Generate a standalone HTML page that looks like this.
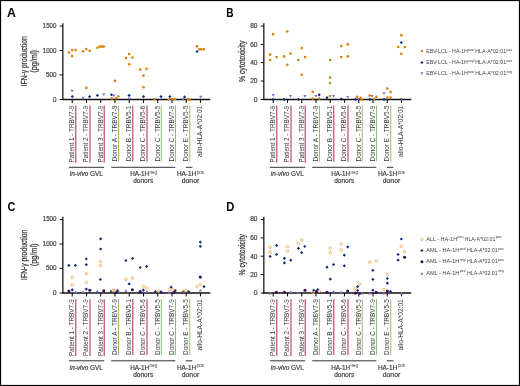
<!DOCTYPE html>
<html><head><meta charset="utf-8"><title>Figure</title>
<style>html,body{margin:0;padding:0;background:#fff;}body{width:520px;height:386px;overflow:hidden;font-family:"Liberation Sans",sans-serif;}svg{display:block;will-change:transform;}</style>
</head><body>
<svg width="520" height="386" viewBox="0 0 520 386" font-family='"Liberation Sans", sans-serif'>
<rect x="0" y="0" width="520" height="386" fill="#fff"/>
<path d="M62.83 23.20V100.10" fill="none" stroke="#111" stroke-width="1.27"/>
<path d="M62.20 99.50H210.30" fill="none" stroke="#111" stroke-width="1.3"/>
<path d="M59.70 26.10H62.83" stroke="#111" stroke-width="1"/>
<text x="56.5" y="27.7" font-size="6.9" text-anchor="end" font-weight="normal" font-style="normal" fill="#383838" textLength="13.8" lengthAdjust="spacingAndGlyphs" stroke="#383838" stroke-width="0.18">1500</text>
<path d="M59.70 50.50H62.83" stroke="#111" stroke-width="1"/>
<text x="56.5" y="52.9" font-size="6.9" text-anchor="end" font-weight="normal" font-style="normal" fill="#383838" textLength="13.8" lengthAdjust="spacingAndGlyphs" stroke="#383838" stroke-width="0.18">1000</text>
<path d="M59.70 74.90H62.83" stroke="#111" stroke-width="1"/>
<text x="56.5" y="76.6" font-size="6.9" text-anchor="end" font-weight="normal" font-style="normal" fill="#383838" textLength="10.6" lengthAdjust="spacingAndGlyphs" stroke="#383838" stroke-width="0.18">500</text>
<path d="M59.70 99.50H62.83" stroke="#111" stroke-width="1"/>
<text x="56.5" y="101.6" font-size="6.9" text-anchor="end" font-weight="normal" font-style="normal" fill="#383838" textLength="3.8" lengthAdjust="spacingAndGlyphs" stroke="#383838" stroke-width="0.18">0</text>
<path d="M72.25 99.5V102.90" stroke="#111" stroke-width="1.1"/>
<text transform="translate(74.10 105.7) rotate(-90)" font-size="7" text-anchor="end" font-weight="normal" font-style="normal" fill="#383838" textLength="56.9" lengthAdjust="spacingAndGlyphs">Patient 1 - TRBV7-9</text>
<rect x="75.10" y="105.6" width="1.3" height="57.00" fill="#c9557a"/>
<path d="M86.50 99.5V102.90" stroke="#111" stroke-width="1.1"/>
<text transform="translate(88.35 105.7) rotate(-90)" font-size="7" text-anchor="end" font-weight="normal" font-style="normal" fill="#383838" textLength="56.9" lengthAdjust="spacingAndGlyphs">Patient 2 - TRBV7-9</text>
<rect x="89.35" y="105.6" width="1.3" height="57.00" fill="#c9557a"/>
<path d="M100.75 99.5V102.90" stroke="#111" stroke-width="1.1"/>
<text transform="translate(102.60 105.7) rotate(-90)" font-size="7" text-anchor="end" font-weight="normal" font-style="normal" fill="#383838" textLength="56.9" lengthAdjust="spacingAndGlyphs">Patient 3 - TRBV7-9</text>
<rect x="103.60" y="105.6" width="1.3" height="57.00" fill="#c9557a"/>
<path d="M115.00 99.5V102.90" stroke="#111" stroke-width="1.1"/>
<text transform="translate(116.85 105.7) rotate(-90)" font-size="7" text-anchor="end" font-weight="normal" font-style="normal" fill="#383838" textLength="55.8" lengthAdjust="spacingAndGlyphs">Donor A - TRBV7-9</text>
<rect x="118.00" y="105.6" width="1.0" height="55.90" fill="#8cc46e"/>
<path d="M129.25 99.5V102.90" stroke="#111" stroke-width="1.1"/>
<text transform="translate(131.10 105.7) rotate(-90)" font-size="7" text-anchor="end" font-weight="normal" font-style="normal" fill="#383838" textLength="55.8" lengthAdjust="spacingAndGlyphs">Donor B - TRBV5-1</text>
<rect x="132.10" y="105.6" width="1.3" height="55.90" fill="#c9557a"/>
<path d="M143.50 99.5V102.90" stroke="#111" stroke-width="1.1"/>
<text transform="translate(145.35 105.7) rotate(-90)" font-size="7" text-anchor="end" font-weight="normal" font-style="normal" fill="#383838" textLength="55.8" lengthAdjust="spacingAndGlyphs">Donor C - TRBV5-6</text>
<rect x="146.35" y="105.6" width="1.3" height="55.90" fill="#c9557a"/>
<path d="M157.75 99.5V102.90" stroke="#111" stroke-width="1.1"/>
<text transform="translate(159.60 105.7) rotate(-90)" font-size="7" text-anchor="end" font-weight="normal" font-style="normal" fill="#383838" textLength="55.8" lengthAdjust="spacingAndGlyphs">Donor C - TRBV5-5</text>
<rect x="160.75" y="105.6" width="1.0" height="55.90" fill="#8cc46e"/>
<path d="M172.00 99.5V102.90" stroke="#111" stroke-width="1.1"/>
<text transform="translate(173.85 105.7) rotate(-90)" font-size="7" text-anchor="end" font-weight="normal" font-style="normal" fill="#383838" textLength="55.8" lengthAdjust="spacingAndGlyphs">Donor C - TRBV7-9</text>
<rect x="175.00" y="105.6" width="1.0" height="55.90" fill="#8cc46e"/>
<path d="M186.25 99.5V102.90" stroke="#111" stroke-width="1.1"/>
<text transform="translate(188.10 105.7) rotate(-90)" font-size="7" text-anchor="end" font-weight="normal" font-style="normal" fill="#383838" textLength="55.8" lengthAdjust="spacingAndGlyphs">Donor E - TRBV5-5</text>
<rect x="189.25" y="105.6" width="1.0" height="55.90" fill="#8cc46e"/>
<path d="M200.50 99.5V102.90" stroke="#111" stroke-width="1.1"/>
<text transform="translate(202.35 105.7) rotate(-90)" font-size="7" text-anchor="end" font-weight="normal" font-style="normal" fill="#383838" textLength="51.2" lengthAdjust="spacingAndGlyphs">allo-HLA-A*02:01</text>
<rect x="68.8" y="166.8" width="35.4" height="1" fill="#333"/>
<rect x="111.2" y="166.8" width="64.1" height="1" fill="#333"/>
<rect x="185.8" y="166.8" width="6.6" height="1" fill="#333"/>
<text x="69.8" y="176" font-size="6.8" fill="#383838" stroke="#383838" stroke-width="0.18" textLength="33.1" lengthAdjust="spacingAndGlyphs"><tspan font-style="italic">in-vivo</tspan> GVL</text>
<text x="130.2" y="176" font-size="6.6" text-anchor="start" font-weight="normal" font-style="normal" fill="#383838" textLength="19.0" lengthAdjust="spacingAndGlyphs" stroke="#383838" stroke-width="0.18">HA-1H</text>
<text x="149.4" y="173.9" font-size="4.8" text-anchor="start" font-weight="normal" font-style="normal" fill="#383838" textLength="7.6" lengthAdjust="spacingAndGlyphs">neg</text>
<text x="133.2" y="183.3" font-size="6.6" text-anchor="start" font-weight="normal" font-style="normal" fill="#383838" textLength="20.0" lengthAdjust="spacingAndGlyphs" stroke="#383838" stroke-width="0.18">donors</text>
<text x="176.9" y="176" font-size="6.6" text-anchor="start" font-weight="normal" font-style="normal" fill="#383838" textLength="19.4" lengthAdjust="spacingAndGlyphs" stroke="#383838" stroke-width="0.18">HA-1H</text>
<text x="196.9" y="173.6" font-size="4.8" text-anchor="start" font-weight="normal" font-style="normal" fill="#383838" textLength="7.2" lengthAdjust="spacingAndGlyphs">pos</text>
<text x="181.8" y="183.3" font-size="6.6" text-anchor="start" font-weight="normal" font-style="normal" fill="#383838" textLength="17.4" lengthAdjust="spacingAndGlyphs" stroke="#383838" stroke-width="0.18">donor</text>
<path d="M263.83 23.20V100.10" fill="none" stroke="#111" stroke-width="1.27"/>
<path d="M263.20 99.50H411.30" fill="none" stroke="#111" stroke-width="1.3"/>
<path d="M260.70 26.10H263.83" stroke="#111" stroke-width="1"/>
<text x="257.5" y="27.9" font-size="6.9" text-anchor="end" font-weight="normal" font-style="normal" fill="#383838" textLength="7.3" lengthAdjust="spacingAndGlyphs" stroke="#383838" stroke-width="0.18">80</text>
<path d="M260.70 44.40H263.83" stroke="#111" stroke-width="1"/>
<text x="257.5" y="46.7" font-size="6.9" text-anchor="end" font-weight="normal" font-style="normal" fill="#383838" textLength="7.3" lengthAdjust="spacingAndGlyphs" stroke="#383838" stroke-width="0.18">60</text>
<path d="M260.70 62.70H263.83" stroke="#111" stroke-width="1"/>
<text x="257.5" y="65.2" font-size="6.9" text-anchor="end" font-weight="normal" font-style="normal" fill="#383838" textLength="7.3" lengthAdjust="spacingAndGlyphs" stroke="#383838" stroke-width="0.18">40</text>
<path d="M260.70 81.00H263.83" stroke="#111" stroke-width="1"/>
<text x="257.5" y="83.0" font-size="6.9" text-anchor="end" font-weight="normal" font-style="normal" fill="#383838" textLength="7.3" lengthAdjust="spacingAndGlyphs" stroke="#383838" stroke-width="0.18">20</text>
<path d="M260.70 99.50H263.83" stroke="#111" stroke-width="1"/>
<text x="257.5" y="101.7" font-size="6.9" text-anchor="end" font-weight="normal" font-style="normal" fill="#383838" textLength="3.8" lengthAdjust="spacingAndGlyphs" stroke="#383838" stroke-width="0.18">0</text>
<path d="M273.25 99.5V102.90" stroke="#111" stroke-width="1.1"/>
<text transform="translate(275.10 105.7) rotate(-90)" font-size="7" text-anchor="end" font-weight="normal" font-style="normal" fill="#383838" textLength="56.9" lengthAdjust="spacingAndGlyphs">Patient 1 - TRBV7-9</text>
<rect x="276.10" y="105.6" width="1.3" height="57.00" fill="#c9557a"/>
<path d="M287.50 99.5V102.90" stroke="#111" stroke-width="1.1"/>
<text transform="translate(289.35 105.7) rotate(-90)" font-size="7" text-anchor="end" font-weight="normal" font-style="normal" fill="#383838" textLength="56.9" lengthAdjust="spacingAndGlyphs">Patient 2 - TRBV7-9</text>
<rect x="290.35" y="105.6" width="1.3" height="57.00" fill="#c9557a"/>
<path d="M301.75 99.5V102.90" stroke="#111" stroke-width="1.1"/>
<text transform="translate(303.60 105.7) rotate(-90)" font-size="7" text-anchor="end" font-weight="normal" font-style="normal" fill="#383838" textLength="56.9" lengthAdjust="spacingAndGlyphs">Patient 3 - TRBV7-9</text>
<rect x="304.60" y="105.6" width="1.3" height="57.00" fill="#c9557a"/>
<path d="M316.00 99.5V102.90" stroke="#111" stroke-width="1.1"/>
<text transform="translate(317.85 105.7) rotate(-90)" font-size="7" text-anchor="end" font-weight="normal" font-style="normal" fill="#383838" textLength="55.8" lengthAdjust="spacingAndGlyphs">Donor A - TRBV7-9</text>
<rect x="319.00" y="105.6" width="1.0" height="55.90" fill="#8cc46e"/>
<path d="M330.25 99.5V102.90" stroke="#111" stroke-width="1.1"/>
<text transform="translate(332.10 105.7) rotate(-90)" font-size="7" text-anchor="end" font-weight="normal" font-style="normal" fill="#383838" textLength="55.8" lengthAdjust="spacingAndGlyphs">Donor B - TRBV5-1</text>
<rect x="333.10" y="105.6" width="1.3" height="55.90" fill="#c9557a"/>
<path d="M344.50 99.5V102.90" stroke="#111" stroke-width="1.1"/>
<text transform="translate(346.35 105.7) rotate(-90)" font-size="7" text-anchor="end" font-weight="normal" font-style="normal" fill="#383838" textLength="55.8" lengthAdjust="spacingAndGlyphs">Donor C - TRBV5-6</text>
<rect x="347.35" y="105.6" width="1.3" height="55.90" fill="#c9557a"/>
<path d="M358.75 99.5V102.90" stroke="#111" stroke-width="1.1"/>
<text transform="translate(360.60 105.7) rotate(-90)" font-size="7" text-anchor="end" font-weight="normal" font-style="normal" fill="#383838" textLength="55.8" lengthAdjust="spacingAndGlyphs">Donor C - TRBV5-5</text>
<rect x="361.75" y="105.6" width="1.0" height="55.90" fill="#8cc46e"/>
<path d="M373.00 99.5V102.90" stroke="#111" stroke-width="1.1"/>
<text transform="translate(374.85 105.7) rotate(-90)" font-size="7" text-anchor="end" font-weight="normal" font-style="normal" fill="#383838" textLength="55.8" lengthAdjust="spacingAndGlyphs">Donor C - TRBV7-9</text>
<rect x="376.00" y="105.6" width="1.0" height="55.90" fill="#8cc46e"/>
<path d="M387.25 99.5V102.90" stroke="#111" stroke-width="1.1"/>
<text transform="translate(389.10 105.7) rotate(-90)" font-size="7" text-anchor="end" font-weight="normal" font-style="normal" fill="#383838" textLength="55.8" lengthAdjust="spacingAndGlyphs">Donor E - TRBV5-5</text>
<rect x="390.25" y="105.6" width="1.0" height="55.90" fill="#8cc46e"/>
<path d="M401.50 99.5V102.90" stroke="#111" stroke-width="1.1"/>
<text transform="translate(403.35 105.7) rotate(-90)" font-size="7" text-anchor="end" font-weight="normal" font-style="normal" fill="#383838" textLength="51.2" lengthAdjust="spacingAndGlyphs">allo-HLA-A*02:01</text>
<rect x="269.8" y="166.8" width="35.4" height="1" fill="#333"/>
<rect x="312.2" y="166.8" width="64.1" height="1" fill="#333"/>
<rect x="386.8" y="166.8" width="6.6" height="1" fill="#333"/>
<text x="270.8" y="176" font-size="6.8" fill="#383838" stroke="#383838" stroke-width="0.18" textLength="33.1" lengthAdjust="spacingAndGlyphs"><tspan font-style="italic">in-vivo</tspan> GVL</text>
<text x="331.2" y="176" font-size="6.6" text-anchor="start" font-weight="normal" font-style="normal" fill="#383838" textLength="19.0" lengthAdjust="spacingAndGlyphs" stroke="#383838" stroke-width="0.18">HA-1H</text>
<text x="350.4" y="173.9" font-size="4.8" text-anchor="start" font-weight="normal" font-style="normal" fill="#383838" textLength="7.6" lengthAdjust="spacingAndGlyphs">neg</text>
<text x="334.2" y="183.3" font-size="6.6" text-anchor="start" font-weight="normal" font-style="normal" fill="#383838" textLength="20.0" lengthAdjust="spacingAndGlyphs" stroke="#383838" stroke-width="0.18">donors</text>
<text x="377.9" y="176" font-size="6.6" text-anchor="start" font-weight="normal" font-style="normal" fill="#383838" textLength="19.4" lengthAdjust="spacingAndGlyphs" stroke="#383838" stroke-width="0.18">HA-1H</text>
<text x="397.9" y="173.6" font-size="4.8" text-anchor="start" font-weight="normal" font-style="normal" fill="#383838" textLength="7.2" lengthAdjust="spacingAndGlyphs">pos</text>
<text x="382.8" y="183.3" font-size="6.6" text-anchor="start" font-weight="normal" font-style="normal" fill="#383838" textLength="17.4" lengthAdjust="spacingAndGlyphs" stroke="#383838" stroke-width="0.18">donor</text>
<path d="M62.83 216.70V293.60" fill="none" stroke="#111" stroke-width="1.27"/>
<path d="M62.20 293.00H210.30" fill="none" stroke="#111" stroke-width="1.3"/>
<path d="M59.70 219.60H62.83" stroke="#111" stroke-width="1"/>
<text x="56.5" y="221.2" font-size="6.9" text-anchor="end" font-weight="normal" font-style="normal" fill="#383838" textLength="13.8" lengthAdjust="spacingAndGlyphs" stroke="#383838" stroke-width="0.18">1500</text>
<path d="M59.70 244.00H62.83" stroke="#111" stroke-width="1"/>
<text x="56.5" y="246.4" font-size="6.9" text-anchor="end" font-weight="normal" font-style="normal" fill="#383838" textLength="13.8" lengthAdjust="spacingAndGlyphs" stroke="#383838" stroke-width="0.18">1000</text>
<path d="M59.70 268.40H62.83" stroke="#111" stroke-width="1"/>
<text x="56.5" y="270.1" font-size="6.9" text-anchor="end" font-weight="normal" font-style="normal" fill="#383838" textLength="10.6" lengthAdjust="spacingAndGlyphs" stroke="#383838" stroke-width="0.18">500</text>
<path d="M59.70 293.00H62.83" stroke="#111" stroke-width="1"/>
<text x="56.5" y="295.1" font-size="6.9" text-anchor="end" font-weight="normal" font-style="normal" fill="#383838" textLength="3.8" lengthAdjust="spacingAndGlyphs" stroke="#383838" stroke-width="0.18">0</text>
<path d="M72.25 293.0V296.40" stroke="#111" stroke-width="1.1"/>
<text transform="translate(74.10 299.2) rotate(-90)" font-size="7" text-anchor="end" font-weight="normal" font-style="normal" fill="#383838" textLength="56.9" lengthAdjust="spacingAndGlyphs">Patient 1 - TRBV7-9</text>
<rect x="75.10" y="299.1" width="1.3" height="57.00" fill="#c9557a"/>
<path d="M86.50 293.0V296.40" stroke="#111" stroke-width="1.1"/>
<text transform="translate(88.35 299.2) rotate(-90)" font-size="7" text-anchor="end" font-weight="normal" font-style="normal" fill="#383838" textLength="56.9" lengthAdjust="spacingAndGlyphs">Patient 2 - TRBV7-9</text>
<rect x="89.35" y="299.1" width="1.3" height="57.00" fill="#c9557a"/>
<path d="M100.75 293.0V296.40" stroke="#111" stroke-width="1.1"/>
<text transform="translate(102.60 299.2) rotate(-90)" font-size="7" text-anchor="end" font-weight="normal" font-style="normal" fill="#383838" textLength="56.9" lengthAdjust="spacingAndGlyphs">Patient 3 - TRBV7-9</text>
<rect x="103.60" y="299.1" width="1.3" height="57.00" fill="#c9557a"/>
<path d="M115.00 293.0V296.40" stroke="#111" stroke-width="1.1"/>
<text transform="translate(116.85 299.2) rotate(-90)" font-size="7" text-anchor="end" font-weight="normal" font-style="normal" fill="#383838" textLength="55.8" lengthAdjust="spacingAndGlyphs">Donor A - TRBV7-9</text>
<rect x="118.00" y="299.1" width="1.0" height="55.90" fill="#8cc46e"/>
<path d="M129.25 293.0V296.40" stroke="#111" stroke-width="1.1"/>
<text transform="translate(131.10 299.2) rotate(-90)" font-size="7" text-anchor="end" font-weight="normal" font-style="normal" fill="#383838" textLength="55.8" lengthAdjust="spacingAndGlyphs">Donor B - TRBV5-1</text>
<rect x="132.10" y="299.1" width="1.3" height="55.90" fill="#c9557a"/>
<path d="M143.50 293.0V296.40" stroke="#111" stroke-width="1.1"/>
<text transform="translate(145.35 299.2) rotate(-90)" font-size="7" text-anchor="end" font-weight="normal" font-style="normal" fill="#383838" textLength="55.8" lengthAdjust="spacingAndGlyphs">Donor C - TRBV5-6</text>
<rect x="146.35" y="299.1" width="1.3" height="55.90" fill="#c9557a"/>
<path d="M157.75 293.0V296.40" stroke="#111" stroke-width="1.1"/>
<text transform="translate(159.60 299.2) rotate(-90)" font-size="7" text-anchor="end" font-weight="normal" font-style="normal" fill="#383838" textLength="55.8" lengthAdjust="spacingAndGlyphs">Donor C - TRBV5-5</text>
<rect x="160.75" y="299.1" width="1.0" height="55.90" fill="#8cc46e"/>
<path d="M172.00 293.0V296.40" stroke="#111" stroke-width="1.1"/>
<text transform="translate(173.85 299.2) rotate(-90)" font-size="7" text-anchor="end" font-weight="normal" font-style="normal" fill="#383838" textLength="55.8" lengthAdjust="spacingAndGlyphs">Donor C - TRBV7-9</text>
<rect x="175.00" y="299.1" width="1.0" height="55.90" fill="#8cc46e"/>
<path d="M186.25 293.0V296.40" stroke="#111" stroke-width="1.1"/>
<text transform="translate(188.10 299.2) rotate(-90)" font-size="7" text-anchor="end" font-weight="normal" font-style="normal" fill="#383838" textLength="55.8" lengthAdjust="spacingAndGlyphs">Donor E - TRBV5-5</text>
<rect x="189.25" y="299.1" width="1.0" height="55.90" fill="#8cc46e"/>
<path d="M200.50 293.0V296.40" stroke="#111" stroke-width="1.1"/>
<text transform="translate(202.35 299.2) rotate(-90)" font-size="7" text-anchor="end" font-weight="normal" font-style="normal" fill="#383838" textLength="51.2" lengthAdjust="spacingAndGlyphs">allo-HLA-A*02:01</text>
<rect x="68.8" y="360.3" width="35.4" height="1" fill="#333"/>
<rect x="111.2" y="360.3" width="64.1" height="1" fill="#333"/>
<rect x="185.8" y="360.3" width="6.6" height="1" fill="#333"/>
<text x="69.8" y="369.5" font-size="6.8" fill="#383838" stroke="#383838" stroke-width="0.18" textLength="33.1" lengthAdjust="spacingAndGlyphs"><tspan font-style="italic">in-vivo</tspan> GVL</text>
<text x="130.2" y="369.5" font-size="6.6" text-anchor="start" font-weight="normal" font-style="normal" fill="#383838" textLength="19.0" lengthAdjust="spacingAndGlyphs" stroke="#383838" stroke-width="0.18">HA-1H</text>
<text x="149.4" y="367.4" font-size="4.8" text-anchor="start" font-weight="normal" font-style="normal" fill="#383838" textLength="7.6" lengthAdjust="spacingAndGlyphs">neg</text>
<text x="133.2" y="376.8" font-size="6.6" text-anchor="start" font-weight="normal" font-style="normal" fill="#383838" textLength="20.0" lengthAdjust="spacingAndGlyphs" stroke="#383838" stroke-width="0.18">donors</text>
<text x="176.9" y="369.5" font-size="6.6" text-anchor="start" font-weight="normal" font-style="normal" fill="#383838" textLength="19.4" lengthAdjust="spacingAndGlyphs" stroke="#383838" stroke-width="0.18">HA-1H</text>
<text x="196.9" y="367.1" font-size="4.8" text-anchor="start" font-weight="normal" font-style="normal" fill="#383838" textLength="7.2" lengthAdjust="spacingAndGlyphs">pos</text>
<text x="181.8" y="376.8" font-size="6.6" text-anchor="start" font-weight="normal" font-style="normal" fill="#383838" textLength="17.4" lengthAdjust="spacingAndGlyphs" stroke="#383838" stroke-width="0.18">donor</text>
<path d="M263.83 216.70V293.60" fill="none" stroke="#111" stroke-width="1.27"/>
<path d="M263.20 293.00H411.30" fill="none" stroke="#111" stroke-width="1.3"/>
<path d="M260.70 219.60H263.83" stroke="#111" stroke-width="1"/>
<text x="257.5" y="221.4" font-size="6.9" text-anchor="end" font-weight="normal" font-style="normal" fill="#383838" textLength="7.3" lengthAdjust="spacingAndGlyphs" stroke="#383838" stroke-width="0.18">80</text>
<path d="M260.70 237.90H263.83" stroke="#111" stroke-width="1"/>
<text x="257.5" y="240.2" font-size="6.9" text-anchor="end" font-weight="normal" font-style="normal" fill="#383838" textLength="7.3" lengthAdjust="spacingAndGlyphs" stroke="#383838" stroke-width="0.18">60</text>
<path d="M260.70 256.20H263.83" stroke="#111" stroke-width="1"/>
<text x="257.5" y="258.7" font-size="6.9" text-anchor="end" font-weight="normal" font-style="normal" fill="#383838" textLength="7.3" lengthAdjust="spacingAndGlyphs" stroke="#383838" stroke-width="0.18">40</text>
<path d="M260.70 274.50H263.83" stroke="#111" stroke-width="1"/>
<text x="257.5" y="276.5" font-size="6.9" text-anchor="end" font-weight="normal" font-style="normal" fill="#383838" textLength="7.3" lengthAdjust="spacingAndGlyphs" stroke="#383838" stroke-width="0.18">20</text>
<path d="M260.70 293.00H263.83" stroke="#111" stroke-width="1"/>
<text x="257.5" y="295.2" font-size="6.9" text-anchor="end" font-weight="normal" font-style="normal" fill="#383838" textLength="3.8" lengthAdjust="spacingAndGlyphs" stroke="#383838" stroke-width="0.18">0</text>
<path d="M273.25 293.0V296.40" stroke="#111" stroke-width="1.1"/>
<text transform="translate(275.10 299.2) rotate(-90)" font-size="7" text-anchor="end" font-weight="normal" font-style="normal" fill="#383838" textLength="56.9" lengthAdjust="spacingAndGlyphs">Patient 1 - TRBV7-9</text>
<rect x="276.10" y="299.1" width="1.3" height="57.00" fill="#c9557a"/>
<path d="M287.50 293.0V296.40" stroke="#111" stroke-width="1.1"/>
<text transform="translate(289.35 299.2) rotate(-90)" font-size="7" text-anchor="end" font-weight="normal" font-style="normal" fill="#383838" textLength="56.9" lengthAdjust="spacingAndGlyphs">Patient 2 - TRBV7-9</text>
<rect x="290.35" y="299.1" width="1.3" height="57.00" fill="#c9557a"/>
<path d="M301.75 293.0V296.40" stroke="#111" stroke-width="1.1"/>
<text transform="translate(303.60 299.2) rotate(-90)" font-size="7" text-anchor="end" font-weight="normal" font-style="normal" fill="#383838" textLength="56.9" lengthAdjust="spacingAndGlyphs">Patient 3 - TRBV7-9</text>
<rect x="304.60" y="299.1" width="1.3" height="57.00" fill="#c9557a"/>
<path d="M316.00 293.0V296.40" stroke="#111" stroke-width="1.1"/>
<text transform="translate(317.85 299.2) rotate(-90)" font-size="7" text-anchor="end" font-weight="normal" font-style="normal" fill="#383838" textLength="55.8" lengthAdjust="spacingAndGlyphs">Donor A - TRBV7-9</text>
<rect x="319.00" y="299.1" width="1.0" height="55.90" fill="#8cc46e"/>
<path d="M330.25 293.0V296.40" stroke="#111" stroke-width="1.1"/>
<text transform="translate(332.10 299.2) rotate(-90)" font-size="7" text-anchor="end" font-weight="normal" font-style="normal" fill="#383838" textLength="55.8" lengthAdjust="spacingAndGlyphs">Donor B - TRBV5-1</text>
<rect x="333.10" y="299.1" width="1.3" height="55.90" fill="#c9557a"/>
<path d="M344.50 293.0V296.40" stroke="#111" stroke-width="1.1"/>
<text transform="translate(346.35 299.2) rotate(-90)" font-size="7" text-anchor="end" font-weight="normal" font-style="normal" fill="#383838" textLength="55.8" lengthAdjust="spacingAndGlyphs">Donor C - TRBV5-6</text>
<rect x="347.35" y="299.1" width="1.3" height="55.90" fill="#c9557a"/>
<path d="M358.75 293.0V296.40" stroke="#111" stroke-width="1.1"/>
<text transform="translate(360.60 299.2) rotate(-90)" font-size="7" text-anchor="end" font-weight="normal" font-style="normal" fill="#383838" textLength="55.8" lengthAdjust="spacingAndGlyphs">Donor C - TRBV5-5</text>
<rect x="361.75" y="299.1" width="1.0" height="55.90" fill="#8cc46e"/>
<path d="M373.00 293.0V296.40" stroke="#111" stroke-width="1.1"/>
<text transform="translate(374.85 299.2) rotate(-90)" font-size="7" text-anchor="end" font-weight="normal" font-style="normal" fill="#383838" textLength="55.8" lengthAdjust="spacingAndGlyphs">Donor C - TRBV7-9</text>
<rect x="376.00" y="299.1" width="1.0" height="55.90" fill="#8cc46e"/>
<path d="M387.25 293.0V296.40" stroke="#111" stroke-width="1.1"/>
<text transform="translate(389.10 299.2) rotate(-90)" font-size="7" text-anchor="end" font-weight="normal" font-style="normal" fill="#383838" textLength="55.8" lengthAdjust="spacingAndGlyphs">Donor E - TRBV5-5</text>
<rect x="390.25" y="299.1" width="1.0" height="55.90" fill="#8cc46e"/>
<path d="M401.50 293.0V296.40" stroke="#111" stroke-width="1.1"/>
<text transform="translate(403.35 299.2) rotate(-90)" font-size="7" text-anchor="end" font-weight="normal" font-style="normal" fill="#383838" textLength="51.2" lengthAdjust="spacingAndGlyphs">allo-HLA-A*02:01</text>
<rect x="269.8" y="360.3" width="35.4" height="1" fill="#333"/>
<rect x="312.2" y="360.3" width="64.1" height="1" fill="#333"/>
<rect x="386.8" y="360.3" width="6.6" height="1" fill="#333"/>
<text x="270.8" y="369.5" font-size="6.8" fill="#383838" stroke="#383838" stroke-width="0.18" textLength="33.1" lengthAdjust="spacingAndGlyphs"><tspan font-style="italic">in-vivo</tspan> GVL</text>
<text x="331.2" y="369.5" font-size="6.6" text-anchor="start" font-weight="normal" font-style="normal" fill="#383838" textLength="19.0" lengthAdjust="spacingAndGlyphs" stroke="#383838" stroke-width="0.18">HA-1H</text>
<text x="350.4" y="367.4" font-size="4.8" text-anchor="start" font-weight="normal" font-style="normal" fill="#383838" textLength="7.6" lengthAdjust="spacingAndGlyphs">neg</text>
<text x="334.2" y="376.8" font-size="6.6" text-anchor="start" font-weight="normal" font-style="normal" fill="#383838" textLength="20.0" lengthAdjust="spacingAndGlyphs" stroke="#383838" stroke-width="0.18">donors</text>
<text x="377.9" y="369.5" font-size="6.6" text-anchor="start" font-weight="normal" font-style="normal" fill="#383838" textLength="19.4" lengthAdjust="spacingAndGlyphs" stroke="#383838" stroke-width="0.18">HA-1H</text>
<text x="397.9" y="367.1" font-size="4.8" text-anchor="start" font-weight="normal" font-style="normal" fill="#383838" textLength="7.2" lengthAdjust="spacingAndGlyphs">pos</text>
<text x="382.8" y="376.8" font-size="6.6" text-anchor="start" font-weight="normal" font-style="normal" fill="#383838" textLength="17.4" lengthAdjust="spacingAndGlyphs" stroke="#383838" stroke-width="0.18">donor</text>
<text x="7" y="16.7" font-size="12" text-anchor="start" font-weight="bold" font-style="normal" fill="#000" textLength="8.9" lengthAdjust="spacingAndGlyphs">A</text>
<text x="226.3" y="16.7" font-size="12" text-anchor="start" font-weight="bold" font-style="normal" fill="#000" textLength="7.3" lengthAdjust="spacingAndGlyphs">B</text>
<text x="7.4" y="210.5" font-size="12" text-anchor="start" font-weight="bold" font-style="normal" fill="#000" textLength="7.9" lengthAdjust="spacingAndGlyphs">C</text>
<text x="226.3" y="210.5" font-size="12" text-anchor="start" font-weight="bold" font-style="normal" fill="#000" textLength="8.1" lengthAdjust="spacingAndGlyphs">D</text>
<text transform="translate(27 61.3) rotate(-90)" font-size="8.8" text-anchor="middle" font-weight="normal" font-style="normal" fill="#383838" textLength="50.2" lengthAdjust="spacingAndGlyphs" stroke="#383838" stroke-width="0.25">IFN-γ production</text>
<text transform="translate(36.6 61.35) rotate(-90)" font-size="8.8" text-anchor="middle" font-weight="normal" font-style="normal" fill="#383838" textLength="22.7" lengthAdjust="spacingAndGlyphs" stroke="#383838" stroke-width="0.25">(pg/ml)</text>
<text transform="translate(245.4 61.35) rotate(-90)" font-size="8.8" text-anchor="middle" font-weight="normal" font-style="normal" fill="#383838" textLength="41.5" lengthAdjust="spacingAndGlyphs" stroke="#383838" stroke-width="0.25">% cytotoxicity</text>
<text transform="translate(27 254.8) rotate(-90)" font-size="8.8" text-anchor="middle" font-weight="normal" font-style="normal" fill="#383838" textLength="50.2" lengthAdjust="spacingAndGlyphs" stroke="#383838" stroke-width="0.25">IFN-γ production</text>
<text transform="translate(36.6 254.85) rotate(-90)" font-size="8.8" text-anchor="middle" font-weight="normal" font-style="normal" fill="#383838" textLength="22.7" lengthAdjust="spacingAndGlyphs" stroke="#383838" stroke-width="0.25">(pg/ml)</text>
<text transform="translate(245.4 254.85) rotate(-90)" font-size="8.8" text-anchor="middle" font-weight="normal" font-style="normal" fill="#383838" textLength="41.5" lengthAdjust="spacingAndGlyphs" stroke="#383838" stroke-width="0.25">% cytotoxicity</text>
<path d="M70.50 89.70L73.70 89.70L72.10 92.40Z" fill="#7d70c6"/>
<path d="M81.50 96.80L84.70 96.80L83.10 99.50Z" fill="#7d70c6"/>
<path d="M102.20 93.30L105.40 93.30L103.80 96.00Z" fill="#7d70c6"/>
<path d="M112.30 94.60L115.50 94.60L113.90 97.30Z" fill="#7d70c6"/>
<path d="M127.60 97.50L130.80 97.50L129.20 100.20Z" fill="#7d70c6"/>
<path d="M171.60 98.70L174.80 98.70L173.20 101.40Z" fill="#7d70c6"/>
<path d="M181.50 98.30L184.70 98.30L183.10 101.00Z" fill="#7d70c6"/>
<path d="M199.10 95.70L202.30 95.70L200.70 98.40Z" fill="#7d70c6"/>
<path d="M271.60 94.00L274.80 94.00L273.20 96.70Z" fill="#7d70c6"/>
<path d="M288.90 95.10L292.10 95.10L290.50 97.80Z" fill="#7d70c6"/>
<path d="M303.40 95.10L306.60 95.10L305.00 97.80Z" fill="#7d70c6"/>
<path d="M314.30 95.10L317.50 95.10L315.90 97.80Z" fill="#7d70c6"/>
<path d="M332.00 95.10L335.20 95.10L333.60 97.80Z" fill="#7d70c6"/>
<path d="M346.20 95.90L349.40 95.90L347.80 98.60Z" fill="#7d70c6"/>
<path d="M357.00 97.90L360.20 97.90L358.60 100.60Z" fill="#7d70c6"/>
<path d="M370.40 95.10L373.60 95.10L372.00 97.80Z" fill="#7d70c6"/>
<path d="M382.40 92.20L385.60 92.20L384.00 94.90Z" fill="#7d70c6"/>
<path d="M399.90 97.90L403.10 97.90L401.50 100.60Z" fill="#7d70c6"/>
<path d="M72.3 94.9L73.89999999999999 96.5L72.3 98.1L70.7 96.5Z" fill="#0d2b70"/>
<path d="M89.6 95.10000000000001L91.19999999999999 96.7L89.6 98.3L88.0 96.7Z" fill="#0d2b70"/>
<path d="M97.4 93.80000000000001L99.0 95.4L97.4 97.0L95.80000000000001 95.4Z" fill="#0d2b70"/>
<path d="M111.5 93.15L113.1 94.75L111.5 96.35L109.9 94.75Z" fill="#0d2b70"/>
<path d="M129.1 93.80000000000001L130.7 95.4L129.1 97.0L127.5 95.4Z" fill="#0d2b70"/>
<path d="M143.5 95.0L145.1 96.6L143.5 98.19999999999999L141.9 96.6Z" fill="#0d2b70"/>
<path d="M161 95.0L162.6 96.6L161 98.19999999999999L159.4 96.6Z" fill="#0d2b70"/>
<path d="M169.9 95.0L171.5 96.6L169.9 98.19999999999999L168.3 96.6Z" fill="#0d2b70"/>
<path d="M184.6 95.30000000000001L186.2 96.9L184.6 98.5L183.0 96.9Z" fill="#0d2b70"/>
<path d="M197.1 49.9L198.7 51.5L197.1 53.1L195.5 51.5Z" fill="#0d2b70"/>
<path d="M273.2 97.80000000000001L274.8 99.4L273.2 101.0L271.59999999999997 99.4Z" fill="#0d2b70"/>
<path d="M284.2 97.80000000000001L285.8 99.4L284.2 101.0L282.59999999999997 99.4Z" fill="#0d2b70"/>
<path d="M298.4 97.80000000000001L300.0 99.4L298.4 101.0L296.79999999999995 99.4Z" fill="#0d2b70"/>
<path d="M319.2 93.2L320.8 94.8L319.2 96.39999999999999L317.59999999999997 94.8Z" fill="#0d2b70"/>
<path d="M327 96.10000000000001L328.6 97.7L327 99.3L325.4 97.7Z" fill="#0d2b70"/>
<path d="M341.3 97.5L342.90000000000003 99.1L341.3 100.69999999999999L339.7 99.1Z" fill="#0d2b70"/>
<path d="M355.5 97.80000000000001L357.1 99.4L355.5 101.0L353.9 99.4Z" fill="#0d2b70"/>
<path d="M369.9 97.80000000000001L371.5 99.4L369.9 101.0L368.29999999999995 99.4Z" fill="#0d2b70"/>
<path d="M384 97.7L385.6 99.3L384 100.89999999999999L382.4 99.3Z" fill="#0d2b70"/>
<path d="M401.3 40.9L402.90000000000003 42.5L401.3 44.1L399.7 42.5Z" fill="#0d2b70"/>
<circle cx="69" cy="52.5" r="1.3" fill="#db7d06"/>
<circle cx="72.1" cy="50.1" r="1.3" fill="#db7d06"/>
<circle cx="75.5" cy="50.1" r="1.3" fill="#db7d06"/>
<circle cx="72.1" cy="56.1" r="1.3" fill="#db7d06"/>
<circle cx="83" cy="51.3" r="1.3" fill="#db7d06"/>
<circle cx="86.3" cy="49.1" r="1.3" fill="#db7d06"/>
<circle cx="89.7" cy="50.8" r="1.3" fill="#db7d06"/>
<circle cx="86.4" cy="87.9" r="1.3" fill="#db7d06"/>
<circle cx="97.5" cy="47.8" r="1.3" fill="#db7d06"/>
<circle cx="99.8" cy="46.6" r="1.3" fill="#db7d06"/>
<circle cx="101.8" cy="46.6" r="1.3" fill="#db7d06"/>
<circle cx="103.8" cy="46.6" r="1.3" fill="#db7d06"/>
<circle cx="115" cy="80.9" r="1.3" fill="#db7d06"/>
<circle cx="111.8" cy="98.4" r="1.3" fill="#db7d06"/>
<circle cx="116" cy="98.3" r="1.3" fill="#db7d06"/>
<circle cx="118.3" cy="96.5" r="1.3" fill="#db7d06"/>
<circle cx="129.2" cy="54" r="1.3" fill="#db7d06"/>
<circle cx="126" cy="58.1" r="1.3" fill="#db7d06"/>
<circle cx="132.5" cy="57.5" r="1.3" fill="#db7d06"/>
<circle cx="129.2" cy="64.2" r="1.3" fill="#db7d06"/>
<circle cx="140.2" cy="69.5" r="1.3" fill="#db7d06"/>
<circle cx="146.6" cy="68.9" r="1.3" fill="#db7d06"/>
<circle cx="143.5" cy="75.6" r="1.3" fill="#db7d06"/>
<circle cx="143.5" cy="87.3" r="1.3" fill="#db7d06"/>
<circle cx="154.4" cy="99.1" r="1.3" fill="#db7d06"/>
<circle cx="168.8" cy="99.5" r="1.3" fill="#db7d06"/>
<circle cx="172" cy="99" r="1.3" fill="#db7d06"/>
<circle cx="175" cy="99" r="1.3" fill="#db7d06"/>
<circle cx="187.9" cy="99" r="1.3" fill="#db7d06"/>
<circle cx="189.6" cy="99.7" r="1.3" fill="#db7d06"/>
<circle cx="196.9" cy="46.2" r="1.3" fill="#db7d06"/>
<circle cx="199.4" cy="49.2" r="1.3" fill="#db7d06"/>
<circle cx="201.4" cy="49.2" r="1.3" fill="#db7d06"/>
<circle cx="203.8" cy="49.2" r="1.3" fill="#db7d06"/>
<circle cx="273.1" cy="34.3" r="1.3" fill="#db7d06"/>
<circle cx="270.1" cy="54.5" r="1.3" fill="#db7d06"/>
<circle cx="270.1" cy="60" r="1.3" fill="#db7d06"/>
<circle cx="276.6" cy="57.1" r="1.3" fill="#db7d06"/>
<circle cx="287.3" cy="31.5" r="1.3" fill="#db7d06"/>
<circle cx="284.1" cy="56.4" r="1.3" fill="#db7d06"/>
<circle cx="290.6" cy="53.5" r="1.3" fill="#db7d06"/>
<circle cx="287.3" cy="64.8" r="1.3" fill="#db7d06"/>
<circle cx="301.8" cy="48.1" r="1.3" fill="#db7d06"/>
<circle cx="298.3" cy="60" r="1.3" fill="#db7d06"/>
<circle cx="305.1" cy="57.1" r="1.3" fill="#db7d06"/>
<circle cx="301.7" cy="74.8" r="1.3" fill="#db7d06"/>
<circle cx="312.7" cy="91.9" r="1.3" fill="#db7d06"/>
<circle cx="312.7" cy="98.6" r="1.3" fill="#db7d06"/>
<circle cx="319.2" cy="98.6" r="1.3" fill="#db7d06"/>
<circle cx="330.2" cy="60" r="1.3" fill="#db7d06"/>
<circle cx="330.1" cy="77.5" r="1.3" fill="#db7d06"/>
<circle cx="330.1" cy="83" r="1.3" fill="#db7d06"/>
<circle cx="330.1" cy="96" r="1.3" fill="#db7d06"/>
<circle cx="341.2" cy="46.1" r="1.3" fill="#db7d06"/>
<circle cx="347.7" cy="44.4" r="1.3" fill="#db7d06"/>
<circle cx="341.2" cy="57.1" r="1.3" fill="#db7d06"/>
<circle cx="347.7" cy="56.4" r="1.3" fill="#db7d06"/>
<circle cx="357" cy="96.8" r="1.3" fill="#db7d06"/>
<circle cx="360.5" cy="97.9" r="1.3" fill="#db7d06"/>
<circle cx="362" cy="99.4" r="1.3" fill="#db7d06"/>
<circle cx="369.7" cy="95.6" r="1.3" fill="#db7d06"/>
<circle cx="374" cy="98.8" r="1.3" fill="#db7d06"/>
<circle cx="376.3" cy="96.8" r="1.3" fill="#db7d06"/>
<circle cx="387.3" cy="88.5" r="1.3" fill="#db7d06"/>
<circle cx="390.6" cy="92.1" r="1.3" fill="#db7d06"/>
<circle cx="387.3" cy="97.5" r="1.3" fill="#db7d06"/>
<circle cx="390.6" cy="97.5" r="1.3" fill="#db7d06"/>
<circle cx="401.3" cy="35.2" r="1.3" fill="#db7d06"/>
<circle cx="398.2" cy="47" r="1.3" fill="#db7d06"/>
<circle cx="404.8" cy="47" r="1.3" fill="#db7d06"/>
<circle cx="401.3" cy="53.7" r="1.3" fill="#db7d06"/>
<path d="M74.00 292.90L77.20 292.90L75.60 290.20Z" fill="#7d70c6"/>
<path d="M81.40 292.90L84.60 292.90L83.00 290.20Z" fill="#7d70c6"/>
<path d="M95.70 292.30L98.90 292.30L97.30 289.60Z" fill="#7d70c6"/>
<path d="M116.90 292.60L120.10 292.60L118.50 289.90Z" fill="#7d70c6"/>
<path d="M124.30 291.80L127.50 291.80L125.90 289.10Z" fill="#7d70c6"/>
<path d="M145.30 292.80L148.50 292.80L146.90 290.10Z" fill="#7d70c6"/>
<path d="M167.30 293.60L170.50 293.60L168.90 290.90Z" fill="#7d70c6"/>
<path d="M198.70 291.50L201.90 291.50L200.30 288.80Z" fill="#7d70c6"/>
<path d="M268.50 294.60L271.70 294.60L270.10 291.90Z" fill="#7d70c6"/>
<path d="M289.10 292.90L292.30 292.90L290.70 290.20Z" fill="#7d70c6"/>
<path d="M296.80 294.00L300.00 294.00L298.40 291.30Z" fill="#7d70c6"/>
<path d="M331.90 292.60L335.10 292.60L333.50 289.90Z" fill="#7d70c6"/>
<path d="M339.60 293.40L342.80 293.40L341.20 290.70Z" fill="#7d70c6"/>
<path d="M360.10 294.60L363.30 294.60L361.70 291.90Z" fill="#7d70c6"/>
<path d="M368.10 294.60L371.30 294.60L369.70 291.90Z" fill="#7d70c6"/>
<path d="M382.40 294.60L385.60 294.60L384.00 291.90Z" fill="#7d70c6"/>
<path d="M399.70 294.60L402.90 294.60L401.30 291.90Z" fill="#7d70c6"/>
<circle cx="68.9" cy="291" r="1.55" fill="#3c0c5c"/>
<circle cx="89.8" cy="290.3" r="1.55" fill="#3c0c5c"/>
<circle cx="103.8" cy="290.8" r="1.55" fill="#3c0c5c"/>
<circle cx="116.2" cy="292.2" r="1.55" fill="#3c0c5c"/>
<circle cx="132.4" cy="289.8" r="1.55" fill="#3c0c5c"/>
<circle cx="140.2" cy="291.6" r="1.55" fill="#3c0c5c"/>
<circle cx="160.9" cy="292" r="1.55" fill="#3c0c5c"/>
<circle cx="173.8" cy="292.4" r="1.55" fill="#3c0c5c"/>
<circle cx="183" cy="292" r="1.55" fill="#3c0c5c"/>
<circle cx="200.3" cy="277.1" r="1.55" fill="#3c0c5c"/>
<circle cx="276.4" cy="292.3" r="1.55" fill="#3c0c5c"/>
<circle cx="284.4" cy="292.3" r="1.55" fill="#3c0c5c"/>
<circle cx="305" cy="290.3" r="1.55" fill="#3c0c5c"/>
<circle cx="316.5" cy="291.4" r="1.55" fill="#3c0c5c"/>
<circle cx="327" cy="292.2" r="1.55" fill="#3c0c5c"/>
<circle cx="347.7" cy="291" r="1.55" fill="#3c0c5c"/>
<circle cx="355.4" cy="293.1" r="1.55" fill="#3c0c5c"/>
<circle cx="376.2" cy="292.2" r="1.55" fill="#3c0c5c"/>
<circle cx="387.3" cy="291" r="1.55" fill="#3c0c5c"/>
<circle cx="404.6" cy="257.3" r="1.55" fill="#3c0c5c"/>
<path d="M68.9 263.79999999999995L70.5 265.4L68.9 267.0L67.30000000000001 265.4Z" fill="#0d2b70"/>
<path d="M75.4 263.79999999999995L77.0 265.4L75.4 267.0L73.80000000000001 265.4Z" fill="#0d2b70"/>
<path d="M72.3 288.2L73.89999999999999 289.8L72.3 291.40000000000003L70.7 289.8Z" fill="#0d2b70"/>
<path d="M86.3 257.4L87.89999999999999 259L86.3 260.6L84.7 259Z" fill="#0d2b70"/>
<path d="M86.3 263.09999999999997L87.89999999999999 264.7L86.3 266.3L84.7 264.7Z" fill="#0d2b70"/>
<path d="M86.3 287.5L87.89999999999999 289.1L86.3 290.70000000000005L84.7 289.1Z" fill="#0d2b70"/>
<path d="M100.7 237.20000000000002L102.3 238.8L100.7 240.4L99.10000000000001 238.8Z" fill="#0d2b70"/>
<path d="M100.7 247.4L102.3 249L100.7 250.6L99.10000000000001 249Z" fill="#0d2b70"/>
<path d="M100.4 277.9L102.0 279.5L100.4 281.1L98.80000000000001 279.5Z" fill="#0d2b70"/>
<path d="M111.2 289.59999999999997L112.8 291.2L111.2 292.8L109.60000000000001 291.2Z" fill="#0d2b70"/>
<path d="M117.3 289.09999999999997L118.89999999999999 290.7L117.3 292.3L115.7 290.7Z" fill="#0d2b70"/>
<path d="M125.9 258.9L127.5 260.5L125.9 262.1L124.30000000000001 260.5Z" fill="#0d2b70"/>
<path d="M132.6 256.79999999999995L134.2 258.4L132.6 260.0L131.0 258.4Z" fill="#0d2b70"/>
<path d="M129.2 282.29999999999995L130.79999999999998 283.9L129.2 285.5L127.6 283.9Z" fill="#0d2b70"/>
<path d="M140.2 265.9L141.79999999999998 267.5L140.2 269.1L138.6 267.5Z" fill="#0d2b70"/>
<path d="M146.6 264.79999999999995L148.2 266.4L146.6 268.0L145.0 266.4Z" fill="#0d2b70"/>
<path d="M143.4 288.59999999999997L145.0 290.2L143.4 291.8L141.8 290.2Z" fill="#0d2b70"/>
<path d="M155.4 289.9L157.0 291.5L155.4 293.1L153.8 291.5Z" fill="#0d2b70"/>
<path d="M171.1 285.59999999999997L172.7 287.2L171.1 288.8L169.5 287.2Z" fill="#0d2b70"/>
<path d="M175.3 289.09999999999997L176.9 290.7L175.3 292.3L173.70000000000002 290.7Z" fill="#0d2b70"/>
<path d="M188.5 289.9L190.1 291.5L188.5 293.1L186.9 291.5Z" fill="#0d2b70"/>
<path d="M200.3 240.5L201.9 242.1L200.3 243.7L198.70000000000002 242.1Z" fill="#0d2b70"/>
<path d="M200.3 244.70000000000002L201.9 246.3L200.3 247.9L198.70000000000002 246.3Z" fill="#0d2b70"/>
<path d="M204 285.0L205.6 286.6L204 288.20000000000005L202.4 286.6Z" fill="#0d2b70"/>
<path d="M270.1 254.79999999999998L271.70000000000005 256.4L270.1 258.0L268.5 256.4Z" fill="#0d2b70"/>
<path d="M276.6 243.8L278.20000000000005 245.4L276.6 247.0L275.0 245.4Z" fill="#0d2b70"/>
<path d="M276.6 252.8L278.20000000000005 254.4L276.6 256.0L275.0 254.4Z" fill="#0d2b70"/>
<path d="M284.4 256.7L286.0 258.3L284.4 259.90000000000003L282.79999999999995 258.3Z" fill="#0d2b70"/>
<path d="M284.4 261.29999999999995L286.0 262.9L284.4 264.5L282.79999999999995 262.9Z" fill="#0d2b70"/>
<path d="M290.7 258.59999999999997L292.3 260.2L290.7 261.8L289.09999999999997 260.2Z" fill="#0d2b70"/>
<path d="M298.4 246.8L300.0 248.4L298.4 250.0L296.79999999999995 248.4Z" fill="#0d2b70"/>
<path d="M304.8 244.9L306.40000000000003 246.5L304.8 248.1L303.2 246.5Z" fill="#0d2b70"/>
<path d="M301.7 251.0L303.3 252.6L301.7 254.2L300.09999999999997 252.6Z" fill="#0d2b70"/>
<path d="M313.7 288.7L315.3 290.3L313.7 291.90000000000003L312.09999999999997 290.3Z" fill="#0d2b70"/>
<path d="M317.8 287.9L319.40000000000003 289.5L317.8 291.1L316.2 289.5Z" fill="#0d2b70"/>
<path d="M327 265.59999999999997L328.6 267.2L327 268.8L325.4 267.2Z" fill="#0d2b70"/>
<path d="M333.5 263.0L335.1 264.6L333.5 266.20000000000005L331.9 264.6Z" fill="#0d2b70"/>
<path d="M330.3 277.5L331.90000000000003 279.1L330.3 280.70000000000005L328.7 279.1Z" fill="#0d2b70"/>
<path d="M347.7 245.4L349.3 247L347.7 248.6L346.09999999999997 247Z" fill="#0d2b70"/>
<path d="M344.3 253.6L345.90000000000003 255.2L344.3 256.8L342.7 255.2Z" fill="#0d2b70"/>
<path d="M344.3 264.2L345.90000000000003 265.8L344.3 267.40000000000003L342.7 265.8Z" fill="#0d2b70"/>
<path d="M357.7 285.0L359.3 286.6L357.7 288.20000000000005L356.09999999999997 286.6Z" fill="#0d2b70"/>
<path d="M357.7 288.9L359.3 290.5L357.7 292.1L356.09999999999997 290.5Z" fill="#0d2b70"/>
<path d="M359.8 291.79999999999995L361.40000000000003 293.4L359.8 295.0L358.2 293.4Z" fill="#0d2b70"/>
<path d="M372.9 268.7L374.5 270.3L372.9 271.90000000000003L371.29999999999995 270.3Z" fill="#0d2b70"/>
<path d="M372.9 277.79999999999995L374.5 279.4L372.9 281.0L371.29999999999995 279.4Z" fill="#0d2b70"/>
<path d="M372.9 288.59999999999997L374.5 290.2L372.9 291.8L371.29999999999995 290.2Z" fill="#0d2b70"/>
<path d="M387.3 276.9L388.90000000000003 278.5L387.3 280.1L385.7 278.5Z" fill="#0d2b70"/>
<path d="M387.3 281.59999999999997L388.90000000000003 283.2L387.3 284.8L385.7 283.2Z" fill="#0d2b70"/>
<path d="M390.5 289.79999999999995L392.1 291.4L390.5 293.0L388.9 291.4Z" fill="#0d2b70"/>
<path d="M401.3 237.4L402.90000000000003 239L401.3 240.6L399.7 239Z" fill="#0d2b70"/>
<path d="M398.1 252.9L399.70000000000005 254.5L398.1 256.1L396.5 254.5Z" fill="#0d2b70"/>
<path d="M398.1 258.59999999999997L399.70000000000005 260.2L398.1 261.8L396.5 260.2Z" fill="#0d2b70"/>
<circle cx="72.3" cy="277.4" r="1.25" fill="none" stroke="#eaae5c" stroke-width="0.9"/>
<circle cx="72.3" cy="284.7" r="1.25" fill="none" stroke="#eaae5c" stroke-width="0.9"/>
<circle cx="86.3" cy="273.5" r="1.25" fill="none" stroke="#eaae5c" stroke-width="0.9"/>
<circle cx="86.3" cy="282.4" r="1.25" fill="none" stroke="#eaae5c" stroke-width="0.9"/>
<circle cx="100.4" cy="261.5" r="1.25" fill="none" stroke="#eaae5c" stroke-width="0.9"/>
<circle cx="100.4" cy="265.5" r="1.25" fill="none" stroke="#eaae5c" stroke-width="0.9"/>
<circle cx="112.7" cy="290.5" r="1.25" fill="none" stroke="#eaae5c" stroke-width="0.9"/>
<circle cx="115" cy="290.3" r="1.25" fill="none" stroke="#eaae5c" stroke-width="0.9"/>
<circle cx="125.9" cy="279.2" r="1.25" fill="none" stroke="#eaae5c" stroke-width="0.9"/>
<circle cx="132.6" cy="278.1" r="1.25" fill="none" stroke="#eaae5c" stroke-width="0.9"/>
<circle cx="143.4" cy="286.3" r="1.25" fill="none" stroke="#eaae5c" stroke-width="0.9"/>
<circle cx="146.6" cy="287.9" r="1.25" fill="none" stroke="#eaae5c" stroke-width="0.9"/>
<circle cx="158.5" cy="291" r="1.25" fill="none" stroke="#eaae5c" stroke-width="0.9"/>
<circle cx="169.5" cy="289.4" r="1.25" fill="none" stroke="#eaae5c" stroke-width="0.9"/>
<circle cx="172.6" cy="289.9" r="1.25" fill="none" stroke="#eaae5c" stroke-width="0.9"/>
<circle cx="183.5" cy="291" r="1.25" fill="none" stroke="#eaae5c" stroke-width="0.9"/>
<circle cx="186" cy="290.5" r="1.25" fill="none" stroke="#eaae5c" stroke-width="0.9"/>
<circle cx="200.3" cy="284.4" r="1.25" fill="none" stroke="#eaae5c" stroke-width="0.9"/>
<circle cx="197" cy="286.6" r="1.25" fill="none" stroke="#eaae5c" stroke-width="0.9"/>
<circle cx="270.1" cy="247.2" r="1.25" fill="none" stroke="#eaae5c" stroke-width="0.9"/>
<circle cx="270.1" cy="252.4" r="1.25" fill="none" stroke="#eaae5c" stroke-width="0.9"/>
<circle cx="287.4" cy="246.5" r="1.25" fill="none" stroke="#eaae5c" stroke-width="0.9"/>
<circle cx="287.4" cy="251.1" r="1.25" fill="none" stroke="#eaae5c" stroke-width="0.9"/>
<circle cx="301.7" cy="240" r="1.25" fill="none" stroke="#eaae5c" stroke-width="0.9"/>
<circle cx="298.4" cy="243.6" r="1.25" fill="none" stroke="#eaae5c" stroke-width="0.9"/>
<circle cx="312.9" cy="292.5" r="1.25" fill="none" stroke="#eaae5c" stroke-width="0.9"/>
<circle cx="319.4" cy="291" r="1.25" fill="none" stroke="#eaae5c" stroke-width="0.9"/>
<circle cx="330.3" cy="248.3" r="1.25" fill="none" stroke="#eaae5c" stroke-width="0.9"/>
<circle cx="330.3" cy="252.6" r="1.25" fill="none" stroke="#eaae5c" stroke-width="0.9"/>
<circle cx="341.2" cy="244.3" r="1.25" fill="none" stroke="#eaae5c" stroke-width="0.9"/>
<circle cx="341.2" cy="250.1" r="1.25" fill="none" stroke="#eaae5c" stroke-width="0.9"/>
<circle cx="359.8" cy="284" r="1.25" fill="none" stroke="#eaae5c" stroke-width="0.9"/>
<circle cx="355.4" cy="288.6" r="1.25" fill="none" stroke="#eaae5c" stroke-width="0.9"/>
<circle cx="369.7" cy="262.2" r="1.25" fill="none" stroke="#eaae5c" stroke-width="0.9"/>
<circle cx="376.5" cy="261" r="1.25" fill="none" stroke="#eaae5c" stroke-width="0.9"/>
<circle cx="387.3" cy="274.7" r="1.25" fill="none" stroke="#eaae5c" stroke-width="0.9"/>
<circle cx="384" cy="289.6" r="1.25" fill="none" stroke="#eaae5c" stroke-width="0.9"/>
<circle cx="401.3" cy="246.4" r="1.25" fill="none" stroke="#eaae5c" stroke-width="0.9"/>
<circle cx="404.6" cy="251.7" r="1.25" fill="none" stroke="#eaae5c" stroke-width="0.9"/>
<circle cx="421.9" cy="51.0" r="1.2" fill="#db7d06"/>
<text x="426.2" y="53.0" font-size="5.9" text-anchor="start" font-weight="normal" font-style="normal" fill="#444" textLength="41.599999999999994" lengthAdjust="spacingAndGlyphs">EBV-LCL - HA-1H</text>
<text x="468.2" y="50.5" font-size="3.4" text-anchor="start" font-weight="normal" font-style="normal" fill="#383838" textLength="5.2" lengthAdjust="spacingAndGlyphs">pos</text>
<text x="473.5" y="50.8" font-size="3.6" text-anchor="start" font-weight="normal" font-style="normal" fill="#383838">/</text>
<text x="475.3" y="53.0" font-size="5.9" text-anchor="start" font-weight="normal" font-style="normal" fill="#444" textLength="30.8" lengthAdjust="spacingAndGlyphs">HLA-A*02:01</text>
<text x="506.6" y="50.5" font-size="3.4" text-anchor="start" font-weight="normal" font-style="normal" fill="#383838" textLength="5.6" lengthAdjust="spacingAndGlyphs">pos</text>
<path d="M421.9 60.9L423.5 62.5L421.9 64.1L420.29999999999995 62.5Z" fill="#0d2b70"/>
<text x="426.2" y="64.2" font-size="5.9" text-anchor="start" font-weight="normal" font-style="normal" fill="#444" textLength="41.599999999999994" lengthAdjust="spacingAndGlyphs">EBV-LCL - HA-1H</text>
<text x="468.2" y="61.7" font-size="3.4" text-anchor="start" font-weight="normal" font-style="normal" fill="#383838" textLength="5.2" lengthAdjust="spacingAndGlyphs">neg</text>
<text x="473.5" y="62.0" font-size="3.6" text-anchor="start" font-weight="normal" font-style="normal" fill="#383838">/</text>
<text x="475.3" y="64.2" font-size="5.9" text-anchor="start" font-weight="normal" font-style="normal" fill="#444" textLength="30.8" lengthAdjust="spacingAndGlyphs">HLA-A*02:01</text>
<text x="506.6" y="61.7" font-size="3.4" text-anchor="start" font-weight="normal" font-style="normal" fill="#383838" textLength="5.6" lengthAdjust="spacingAndGlyphs">pos</text>
<path d="M420.30 72.20L423.50 72.20L421.90 74.90Z" fill="#7d70c6"/>
<text x="426.2" y="75.3" font-size="5.9" text-anchor="start" font-weight="normal" font-style="normal" fill="#444" textLength="41.599999999999994" lengthAdjust="spacingAndGlyphs">EBV-LCL - HA-1H</text>
<text x="468.2" y="72.8" font-size="3.4" text-anchor="start" font-weight="normal" font-style="normal" fill="#383838" textLength="5.2" lengthAdjust="spacingAndGlyphs">pos</text>
<text x="473.5" y="73.1" font-size="3.6" text-anchor="start" font-weight="normal" font-style="normal" fill="#383838">/</text>
<text x="475.3" y="75.3" font-size="5.9" text-anchor="start" font-weight="normal" font-style="normal" fill="#444" textLength="30.8" lengthAdjust="spacingAndGlyphs">HLA-A*02:01</text>
<text x="506.6" y="72.8" font-size="3.4" text-anchor="start" font-weight="normal" font-style="normal" fill="#383838" textLength="5.6" lengthAdjust="spacingAndGlyphs">neg</text>
<circle cx="421.9" cy="239.3" r="1.25" fill="none" stroke="#eaae5c" stroke-width="0.9"/>
<text x="426.2" y="240.9" font-size="5.9" text-anchor="start" font-weight="normal" font-style="normal" fill="#444" textLength="30.900000000000002" lengthAdjust="spacingAndGlyphs">ALL - HA-1H</text>
<text x="457.5" y="238.4" font-size="3.4" text-anchor="start" font-weight="normal" font-style="normal" fill="#383838" textLength="5.2" lengthAdjust="spacingAndGlyphs">pos</text>
<text x="462.8" y="238.7" font-size="3.6" text-anchor="start" font-weight="normal" font-style="normal" fill="#383838">/</text>
<text x="464.6" y="240.9" font-size="5.9" text-anchor="start" font-weight="normal" font-style="normal" fill="#444" textLength="30.8" lengthAdjust="spacingAndGlyphs">HLA-A*02:01</text>
<text x="495.9" y="238.4" font-size="3.4" text-anchor="start" font-weight="normal" font-style="normal" fill="#383838" textLength="5.6" lengthAdjust="spacingAndGlyphs">pos</text>
<path d="M421.9 248.9L423.5 250.5L421.9 252.1L420.29999999999995 250.5Z" fill="#0d2b70"/>
<text x="426.2" y="252.3" font-size="5.9" text-anchor="start" font-weight="normal" font-style="normal" fill="#444" textLength="33.199999999999996" lengthAdjust="spacingAndGlyphs">AML - HA-1H</text>
<text x="459.8" y="249.8" font-size="3.4" text-anchor="start" font-weight="normal" font-style="normal" fill="#383838" textLength="5.2" lengthAdjust="spacingAndGlyphs">pos</text>
<text x="465.1" y="250.1" font-size="3.6" text-anchor="start" font-weight="normal" font-style="normal" fill="#383838">/</text>
<text x="466.9" y="252.3" font-size="5.9" text-anchor="start" font-weight="normal" font-style="normal" fill="#444" textLength="30.8" lengthAdjust="spacingAndGlyphs">HLA-A*02:01</text>
<text x="498.2" y="249.8" font-size="3.4" text-anchor="start" font-weight="normal" font-style="normal" fill="#383838" textLength="5.6" lengthAdjust="spacingAndGlyphs">pos</text>
<circle cx="421.9" cy="261.8" r="1.5" fill="#3c0c5c"/>
<text x="426.2" y="263.2" font-size="5.9" text-anchor="start" font-weight="normal" font-style="normal" fill="#444" textLength="33.199999999999996" lengthAdjust="spacingAndGlyphs">AML - HA-1H</text>
<text x="459.8" y="260.7" font-size="3.4" text-anchor="start" font-weight="normal" font-style="normal" fill="#383838" textLength="5.2" lengthAdjust="spacingAndGlyphs">neg</text>
<text x="465.1" y="261.0" font-size="3.6" text-anchor="start" font-weight="normal" font-style="normal" fill="#383838">/</text>
<text x="466.9" y="263.2" font-size="5.9" text-anchor="start" font-weight="normal" font-style="normal" fill="#444" textLength="30.8" lengthAdjust="spacingAndGlyphs">HLA-A*02:01</text>
<text x="498.2" y="260.7" font-size="3.4" text-anchor="start" font-weight="normal" font-style="normal" fill="#383838" textLength="5.6" lengthAdjust="spacingAndGlyphs">pos</text>
<path d="M420.30 274.70L423.50 274.70L421.90 272.00Z" fill="#7d70c6"/>
<text x="426.2" y="274.6" font-size="5.9" text-anchor="start" font-weight="normal" font-style="normal" fill="#444" textLength="33.199999999999996" lengthAdjust="spacingAndGlyphs">AML - HA-1H</text>
<text x="459.8" y="272.1" font-size="3.4" text-anchor="start" font-weight="normal" font-style="normal" fill="#383838" textLength="5.2" lengthAdjust="spacingAndGlyphs">pos</text>
<text x="465.1" y="272.4" font-size="3.6" text-anchor="start" font-weight="normal" font-style="normal" fill="#383838">/</text>
<text x="466.9" y="274.6" font-size="5.9" text-anchor="start" font-weight="normal" font-style="normal" fill="#444" textLength="30.8" lengthAdjust="spacingAndGlyphs">HLA-A*02:01</text>
<text x="498.2" y="272.1" font-size="3.4" text-anchor="start" font-weight="normal" font-style="normal" fill="#383838" textLength="5.6" lengthAdjust="spacingAndGlyphs">neg</text>
<rect x="0.5" y="0.5" width="519" height="385" fill="none" stroke="#000" stroke-width="1.2"/>
</svg>
</body></html>
